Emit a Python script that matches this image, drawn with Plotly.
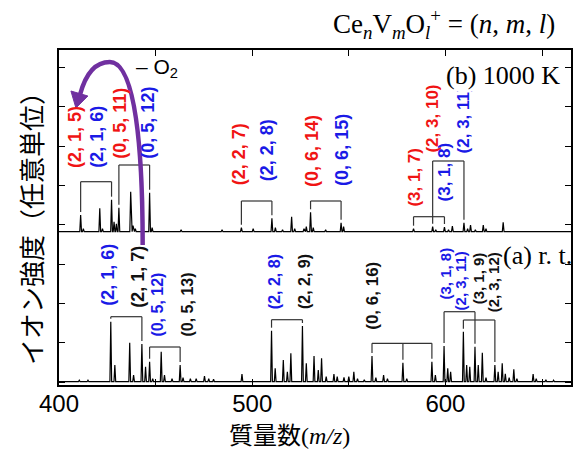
import plotly.graph_objects as go

# ---------------- data ----------------
# (b) 1000 K spectrum: peak m/z and relative heights (arb. units)
mz_hot = [411.2, 412.6, 421.1, 422.5, 427.2, 428.5, 429.7, 431.0, 437.1, 438.3, 439.5,
          446.9, 448.2, 463.2, 484.4, 494.4, 500.5, 510.2, 512.0, 515.7, 520.4, 522.0,
          526.8, 528.0, 530.2, 531.6, 538.0, 546.0, 547.3, 583.5, 593.4, 595.0, 599.5,
          601.6, 603.6, 609.6, 611.5, 613.0, 615.5, 619.6, 621.0, 629.9]
int_hot = [16.7, 3, 23.4, 3, 32, 10, 8, 24, 40, 6, 3,
           39, 4, 2, 2, 4, 3, 13.4, 4, 2, 15, 3,
           3, 5, 19.4, 4, 2, 9, 5, 3, 5, 2, 4.7,
           2, 5.7, 9, 3, 6.7, 2, 6.7, 3, 9.4]

# (a) room temperature spectrum
mz_rt = [410.5, 415.0, 426.8, 428.9, 436.6, 438.6, 442.9, 444.8, 446.9, 448.5, 452.9,
         454.6, 458.5, 462.7, 464.2, 468.0, 471.0, 475.3, 477.5, 480.0, 494.7, 510.0,
         511.9, 516.1, 518.2, 520.0, 526.0, 528.0, 532.0, 534.2, 535.9, 538.3, 542.3,
         544.0, 547.5, 550.0, 552.6, 554.5, 558.0, 562.0, 564.0, 568.0, 570.0, 578.0,
         580.0, 593.0, 594.8, 599.3, 601.2, 602.7, 609.3, 611.0, 612.6, 615.3, 617.0,
         619.1, 621.0, 625.6, 627.3, 629.4, 631.0, 633.0, 635.4, 637.0, 645.4, 647.0,
         652.0, 656.0]
int_rt = [1.5, 1.5, 60, 16.7, 39, 6.7, 37.7, 15, 20, 3, 30,
          6.7, 3, 16.7, 4, 3, 3, 5.7, 3, 2.5, 7.7, 51,
          13.4, 21.7, 10, 28.4, 55.7, 18.4, 25.7, 11.7, 23.4, 5, 7.7,
          5, 4.4, 5, 10, 3, 2, 25.7, 4, 6.7, 3, 19,
          3, 20, 6.7, 35.7, 13.4, 10, 50, 16.7, 15, 35, 16.7,
          29, 4, 16.7, 10, 18.4, 8, 4, 12.4, 3, 7.7, 3,
          2, 1.5]

x_tick_vals = [400, 500, 600]
x_tick_text = ["400", "500", "600"]

# peak assignment labels (text, colour) per spectrum
labels_hot = [("(2, 1, 5)", "red"), ("(2, 1, 6)", "blue"), ("(0, 5, 11)", "red"),
              ("(0, 5, 12)", "blue"), ("(2, 2, 7)", "red"), ("(2, 2, 8)", "blue"),
              ("(0, 6, 14)", "red"), ("(0, 6, 15)", "blue"), ("(3, 1, 7)", "red"),
              ("(2, 3, 10)", "red"), ("(3, 1, 8)", "blue"), ("(2, 3, 11)", "blue")]
labels_rt = [("(2, 1, 6)", "blue"), ("(2, 1, 7)", "black"), ("(0, 5, 12)", "blue"),
             ("(0, 5, 13)", "black"), ("(2, 2, 8)", "blue"), ("(2, 2, 9)", "black"),
             ("(0, 6, 16)", "black"), ("(3, 1, 8)", "blue"), ("(2, 3, 11)", "blue"),
             ("(3, 1, 9)", "black"), ("(2, 3, 12)", "black")]

# bracket groups (peak m/z connected)
brackets_hot = [[411.2, 427.2], [431.0, 446.9], [494.4, 510.2], [530.2, 546.0],
                [583.5, 599.5], [593.4, 609.6]]
brackets_rt = [[426.8, 442.9], [446.9, 462.7], [510.0, 526.0], [562.0, 578.0, 593.0],
               [599.3, 615.3], [609.3, 625.6]]

# ---------------- layout constants ----------------
W, H = 573, 450
L, R, T, B = 59, 0, 50, 65
XMIN, XMAX = 400, 665
PLOT_W = W - L - R
PLOT_H = H - T - B
YMAX = PLOT_H  # y units == pixels
BASE_HOT = 153.3
BASE_RT = 3.3

COLORS = {"red": "#f01414", "blue": "#1a1ae6", "black": "#111111"}


def px2x(px):
    return XMIN + (px - L) * (XMAX - XMIN) / PLOT_W


def py2y(py):
    return (T + PLOT_H) - py


def stick_line(mz, inten, base, hw=0.45):
    xs, ys = [XMIN], [base]
    for m, h in sorted(zip(mz, inten)):
        xs += [m - hw, m, m + hw]
        ys += [base, base + h, base]
    xs.append(XMAX)
    ys.append(base)
    return xs, ys


fig = go.Figure()
for mz, inten, base in [(mz_hot, int_hot, BASE_HOT), (mz_rt, int_rt, BASE_RT)]:
    xs, ys = stick_line(mz, inten, base)
    fig.add_trace(go.Scatter(x=xs, y=ys, mode="lines",
                             line=dict(color="black", width=1.2),
                             hoverinfo="skip", showlegend=False))

shapes = []


def peak_top(mz_list, inten, base, m):
    i = min(range(len(mz_list)), key=lambda k: abs(mz_list[k] - m))
    return base + inten[i]


bracket_levels_hot = [203.3, 220, 184, 184, 168.3, 224]
bracket_levels_rt = [68.3, 38, 65.3, 41.7, 73.3, 65]
for groups, levels, mzl, inten, base in [
        (brackets_hot, bracket_levels_hot, mz_hot, int_hot, BASE_HOT),
        (brackets_rt, bracket_levels_rt, mz_rt, int_rt, BASE_RT)]:
    for grp, lev in zip(groups, levels):
        shapes.append(dict(type="line", xref="x", yref="y", x0=grp[0], x1=grp[-1],
                           y0=lev, y1=lev, line=dict(color="#333", width=1.2)))
        for m in grp:
            bot = min(peak_top(mzl, inten, base, m) + 3, lev)
            shapes.append(dict(type="line", xref="x", yref="y", x0=m, x1=m,
                               y0=bot, y1=lev, line=dict(color="#333", width=1.2)))

# purple arrow (-O2)
PURPLE = "#7030a0"
pts = [(143, 245), (143, 150), (136, 62), (110, 62), (92, 62), (84, 80), (80, 95)]
d = "M {},{} C {},{} {},{} {},{} C {},{} {},{} {},{}".format(
    *sum([[px2x(a), py2y(b)] for a, b in pts], []))
shapes.append(dict(type="path", xref="x", yref="y", path=d,
                   line=dict(color=PURPLE, width=4.5)))
head = [(76, 108), (88, 96), (71, 91)]
dh = "M {},{} L {},{} L {},{} Z".format(*sum([[px2x(a), py2y(b)] for a, b in head], []))
shapes.append(dict(type="path", xref="x", yref="y", path=dh,
                   fillcolor=PURPLE, line=dict(color=PURPLE, width=1)))

annotations = []
pos_hot = [(75, 137, 18), (97, 137, 18), (120, 123, 18), (148, 123, 18), (240, 154, 18),
           (268, 150, 18), (313, 151, 18), (343, 150, 18), (415, 177, 17), (433, 119, 17),
           (446, 172, 17), (465, 120, 17)]
pos_rt = [(108, 275, 18), (138, 277, 18), (157, 305, 16), (187, 305, 16), (275, 282, 16),
          (305, 282, 16), (373, 296, 17), (447, 273, 15), (462, 281, 15), (480, 278, 15),
          (495, 282, 15)]
for labs, poss in [(labels_hot, pos_hot), (labels_rt, pos_rt)]:
    for (txt, col), (px, py, fs) in zip(labs, poss):
        annotations.append(dict(x=px2x(px), y=py2y(py), xref="x", yref="y",
                                text="<b>" + txt + "</b>", textangle=-90, showarrow=False,
                                xanchor="center", yanchor="middle",
                                font=dict(family="Liberation Sans", size=fs,
                                          color=COLORS[col])))

SERIF = "Liberation Serif"
annotations += [
    dict(x=px2x(157), y=py2y(68), xref="x", yref="y", showarrow=False,
         text="\u2013 O<sub>2</sub>", font=dict(family="Liberation Sans", size=21, color="black"),
         xanchor="center", yanchor="middle"),
    dict(x=px2x(505), y=py2y(75), xref="x", yref="y", showarrow=False,
         text="(b) 1000 K", font=dict(family=SERIF, size=26, color="black"),
         xanchor="center", yanchor="middle", bgcolor="white"),
    dict(x=px2x(503), y=py2y(255), xref="x", yref="y", showarrow=False,
         text="(a) r. t.", font=dict(family=SERIF, size=26, color="black"),
         xanchor="left", yanchor="middle"),
    dict(x=559, y=24, xref="paper", yref="paper", showarrow=False,
         text="Ce<sub><i>n</i></sub>V<sub><i>m</i></sub>O<sub><i>l</i></sub><sup>+</sup> = (<i>n</i>, <i>m</i>, <i>l</i>)",
         font=dict(family=SERIF, size=27, color="black"), xanchor="right", yanchor="middle"),
    dict(x=290, y=433, xref="paper", yref="paper", showarrow=False,
         text='<span style="font-family:Noto Sans CJK JP">質量数</span>(<i>m/z</i>)',
         font=dict(family=SERIF, size=24, color="black"), xanchor="center", yanchor="middle"),
    dict(x=30, y=222, xref="paper", yref="paper", showarrow=False, textangle=-90,
         text="イオン強度（任意単位）",
         font=dict(family="Noto Sans CJK JP", size=26, color="black"),
         xanchor="center", yanchor="middle"),
]
# convert paper-pixel annotations to paper fractions
for a in annotations:
    if a["xref"] == "paper":
        a["x"] = (a["x"] - L) / PLOT_W
        a["y"] = (T + PLOT_H - a["y"]) / PLOT_H

fig.update_layout(
    width=W, height=H, margin=dict(l=L, r=R, t=T, b=B),
    paper_bgcolor="white", plot_bgcolor="white",
    shapes=shapes, annotations=annotations,
    xaxis=dict(range=[XMIN, XMAX], tickvals=x_tick_vals, ticktext=x_tick_text,
               ticks="inside", ticklen=6, tickwidth=1.2, tickcolor="black",
               ticklabelstandoff=-4,
               minor=dict(ticks="inside", tickvals=[450, 550, 650], ticklen=6,
                          tickwidth=1.2, tickcolor="black", showgrid=False),
               showline=True, linecolor="black", linewidth=1.5, mirror="ticks",
               showgrid=False, zeroline=False,
               tickfont=dict(family="Liberation Sans", size=24, color="black")),
    yaxis=dict(range=[0, YMAX], tick0=3, dtick=39.3, ticks="inside", ticklen=6,
               tickwidth=1.2, tickcolor="black", showticklabels=False,
               showline=True, linecolor="black", linewidth=1.5, mirror="ticks",
               showgrid=False, zeroline=False),
)
fig.write_html("out.html")
